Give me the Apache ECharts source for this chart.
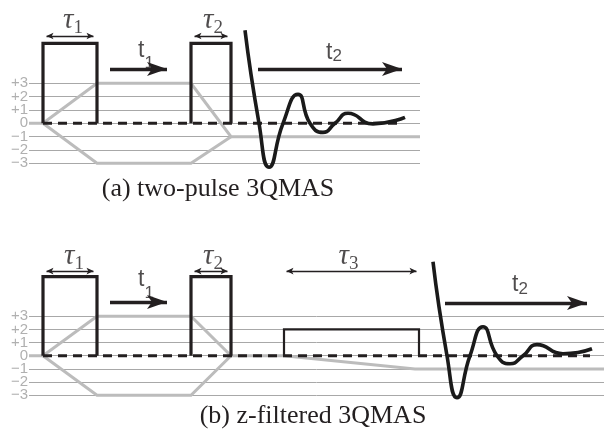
<!DOCTYPE html>
<html><head><meta charset="utf-8">
<script src="https://cdn.jsdelivr.net/npm/echarts@6/dist/echarts.min.js"></script>
<style>html,body{margin:0;padding:0;background:#fff}#c{width:604px;height:433px}</style>
</head><body><div id="c"></div>
<script>
// ---------- data (x: time units, y: coherence level) ----------
const levels = [-3, -2, -1, 0, 1, 2, 3];
const levelLabels = ['−3', '−2', '−1', '0', '+1', '+2', '+3'];
const captions = ['(a) two-pulse 3QMAS', '(b) z-filtered 3QMAS'];

// (a) two-pulse 3QMAS
const aPulse1 = [[14, 0], [14, 6], [68, 6], [68, 0]];
const aPulse2 = [[162, 0], [162, 6], [202, 6], [202, 0]];
const aPathUp = [[0, 0], [14, 0], [68, 3], [162, 3], [202, -1], [391, -1]];
const aPathDown = [[14, 0], [68, -3], [162, -3], [202, -1]];
const aZero = [[14, 0], [369, 0]];
const aFid = [[216, 6.98], [230, 0], [240, -3.3], [254, 0], [269, 2.18], [281, 0], [294, -0.68], [306, 0], [319, 0.75], [344, -0.04], [376, 0.45]];
const aSpans = [[14, 68, 6.55], [162, 202, 6.55]];
const aTimes = [[81, 148, 4.07], [229, 383, 4.07]];
const aLabels = [['{m|τ}{s|1}', 44, 7.63], ['{m|τ}{s|2}', 184, 7.63], ['{t|t}{u|1}', 117, 5.08], ['{t|t}{v|2}', 305, 5.27]];

// (b) z-filtered 3QMAS
const bPulse1 = [[14, 0], [14, 6], [68, 6], [68, 0]];
const bPulse2 = [[162, 0], [162, 6], [202, 6], [202, 0]];
const bPulse3 = [[255, 0], [255, 2], [390, 2], [390, 0]];
const bPathUp = [[0, 0], [14, 0], [68, 3], [162, 3], [202, 0], [255, 0], [386, -1], [575, -1]];
const bPathDown = [[14, 0], [68, -3], [162, -3], [202, 0]];
const bZero = [[14, 0], [561, 0]];
const bFid = [[404, 7.14], [418, 0], [428, -3.19], [441, 0], [454, 2.2], [468, 0], [481, -0.61], [494, 0], [508, 0.84], [534, 0.15], [563, 0.53]];
const bSpans = [[14, 68, 6.43], [162, 202, 6.43], [254, 391, 6.43]];
const bTimes = [[81, 148, 4.08], [416, 568, 4.0]];
const bLabels = [['{m|τ}{s|1}', 45, 7.44], ['{m|τ}{s|2}', 184, 7.44], ['{m|τ}{s|3}', 319.5, 7.44], ['{t|t}{u|1}', 117, 5.37], ['{t|t}{v|2}', 491, 5.33]];

// ---------- styles ----------
const INK = '#231f20';
const PATH = '#bcbcbc';
const GRIDLINE = '#a8a8a8';
const LABEL = '#b0b0b0';
const rich = {
  m: { fontFamily: 'Liberation Serif', fontStyle: 'italic', fontSize: 29, color: INK, verticalAlign: 'top' },
  s: { fontFamily: 'Liberation Serif', fontSize: 19, color: INK, padding: [13, 0, 0, 0], verticalAlign: 'top' },
  t: { fontFamily: 'Liberation Sans', fontSize: 23, color: INK, verticalAlign: 'top' },
  u: { fontFamily: 'Liberation Sans', fontSize: 17, color: INK, padding: [16, 0, 0, 0], verticalAlign: 'top' },
  v: { fontFamily: 'Liberation Sans', fontSize: 17, color: INK, padding: [7, 0, 0, 0], verticalAlign: 'top' }
};
const YMIN = -5, YMAX = 9;
const splitColors = [];
for (let v = YMIN; v <= YMAX; v++) splitColors.push(levels.indexOf(v) >= 0 ? GRIDLINE : 'rgba(0,0,0,0)');

function lineS(gi, data, lineStyle, z, extra) {
  return Object.assign({
    type: 'line', xAxisIndex: gi, yAxisIndex: gi, data: data, symbol: 'none', showSymbol: false,
    silent: true, z: z, clip: false, animation: false,
    lineStyle: Object.assign({ cap: 'butt', join: 'miter' }, lineStyle)
  }, extra || {});
}
function arrowsS(gi, spans, both, width, head, z) {
  // head = [w, len]; arrow symbol is centred on the end point, so pull the shaft back by len/2
  const off = head[1] / 2;
  return {
    type: 'lines', coordinateSystem: 'cartesian2d', xAxisIndex: gi, yAxisIndex: gi, silent: true, z: z,
    animation: false, clip: false,
    symbol: both ? ['arrow', 'arrow'] : ['none', 'arrow'],
    symbolSize: [both ? head : 0, head],
    lineStyle: { color: INK, width: width, opacity: 1, curveness: 0 },
    data: spans.map(s => ({ coords: [[s[0] + (both ? off : 0), s[2]], [s[1] - off, s[2]]] }))
  };
}
function labelsS(gi, labels) {
  return {
    type: 'scatter', xAxisIndex: gi, yAxisIndex: gi, silent: true, z: 6, symbolSize: 0, animation: false, clip: false,
    data: labels.map(l => ({ name: l[0], value: [l[1], l[2]] })),
    label: { show: true, position: 'inside', formatter: '{b}', rich: rich, color: INK }
  };
}
function panel(gi, P) {
  const s = [
    lineS(gi, P.up, { color: PATH, width: 3 }, 2),
    lineS(gi, P.down, { color: PATH, width: 3 }, 2),
    lineS(gi, P.zero, { color: INK, width: 3, type: [9, 6] }, 3)
  ];
  P.pulses.forEach(p => s.push(lineS(gi, p, { color: INK, width: 3.2 }, 4)));
  if (P.soft) s.push(lineS(gi, P.soft, { color: INK, width: 2.2 }, 4));
  s.push(lineS(gi, P.fid, { color: '#1a1a1a', width: 3.6, join: 'round' }, 5, { smooth: 0.55 }));
  s.push(arrowsS(gi, P.spans, true, 1.3, [5, 7], 5));
  s.push(arrowsS(gi, P.times, false, 3.4, [10.5, 20], 5));
  s.push(labelsS(gi, P.labels));
  return s;
}
function yAx(gi) {
  return {
    type: 'value', gridIndex: gi, min: YMIN, max: YMAX, interval: 1,
    axisLine: { show: false }, axisTick: { show: false },
    axisLabel: {
      show: true, margin: 1, color: LABEL, fontFamily: 'Liberation Sans', fontSize: 15,
      formatter: v => { const i = levels.indexOf(v); return i < 0 ? '' : levelLabels[i]; }
    },
    splitLine: { show: true, showMinLine: true, showMaxLine: true, lineStyle: { color: splitColors, width: 1 } }
  };
}

const chart = echarts.init(document.getElementById('c'), null, { renderer: 'canvas' });
chart.setOption({
  animation: false,
  backgroundColor: '#ffffff',
  title: [
    { text: captions[0], left: 218, top: 176, textAlign: 'center', textVerticalAlign: 'top', padding: 0,
      textStyle: { fontFamily: 'Liberation Serif', fontSize: 26, fontWeight: 'normal', color: INK } },
    { text: captions[1], left: 313, top: 403, textAlign: 'center', textVerticalAlign: 'top', padding: 0,
      textStyle: { fontFamily: 'Liberation Serif', fontSize: 26, fontWeight: 'normal', color: INK } }
  ],
  grid: [
    { left: 29, top: 3.3, width: 391, height: 186.67, outerBoundsMode: 'none', containLabel: false },
    { left: 29, top: 237.2, width: 575, height: 184.38, outerBoundsMode: 'none', containLabel: false }
  ],
  xAxis: [
    { type: 'value', gridIndex: 0, min: 0, max: 391, show: false },
    { type: 'value', gridIndex: 1, min: 0, max: 575, show: false }
  ],
  yAxis: [yAx(0), yAx(1)],
  series: [].concat(
    panel(0, { up: aPathUp, down: aPathDown, zero: aZero, pulses: [aPulse1, aPulse2], fid: aFid, spans: aSpans, times: aTimes, labels: aLabels }),
    panel(1, { up: bPathUp, down: bPathDown, zero: bZero, pulses: [bPulse1, bPulse2], soft: bPulse3, fid: bFid, spans: bSpans, times: bTimes, labels: bLabels })
  )
});
</script>
</body></html>
